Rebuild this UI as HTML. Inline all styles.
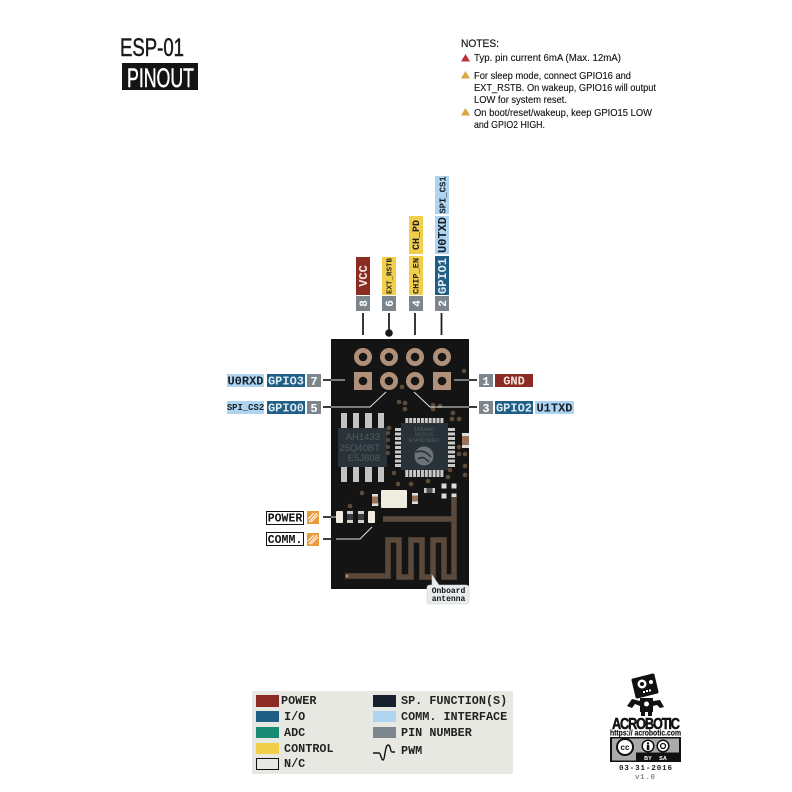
<!DOCTYPE html>
<html><head><meta charset="utf-8"><style>
html,body{margin:0;padding:0;background:#fff}
svg{display:block;filter:blur(.35px)}
.m{font-family:"Liberation Mono",monospace;font-weight:700}
.s{font-family:"Liberation Sans",sans-serif}
.n{font-size:10.5px;fill:#111;stroke:#111;stroke-width:.12}
</style></head><body>
<svg width="792" height="792" viewBox="0 0 792 792" xmlns="http://www.w3.org/2000/svg">
<rect width="792" height="792" fill="#fff"/>
<!-- title -->
<text class="s" x="120" y="56" font-size="25" fill="#1a1a1a" stroke="#1a1a1a" stroke-width=".5" textLength="64" lengthAdjust="spacingAndGlyphs">ESP-01</text>
<rect x="122" y="63" width="76" height="27" fill="#141414"/>
<text class="s" x="127" y="87" font-size="27" fill="#fff" stroke="#fff" stroke-width=".5" textLength="67" lengthAdjust="spacingAndGlyphs">PINOUT</text>
<!-- notes -->
<text class="s" x="461" y="47" font-size="11" fill="#1a1a1a" stroke="#1a1a1a" stroke-width=".2" textLength="38" lengthAdjust="spacingAndGlyphs">NOTES:</text>
<path d="M465.500 54l4.500 7.500h-9z" fill="#b8333a"/>
<path d="M465.500 71l4.500 7.500h-9z" fill="#d9a63f"/>
<path d="M465.500 108l4.500 7.500h-9z" fill="#d9a63f"/>
<text class="s n" x="474" y="61" textLength="147" lengthAdjust="spacingAndGlyphs">Typ. pin current 6mA (Max. 12mA)</text>
<text class="s n" x="474" y="79" textLength="157" lengthAdjust="spacingAndGlyphs">For sleep mode, connect GPIO16 and</text>
<text class="s n" x="474" y="91" textLength="182" lengthAdjust="spacingAndGlyphs">EXT_RSTB. On wakeup, GPIO16 will output</text>
<text class="s n" x="474" y="103" textLength="93" lengthAdjust="spacingAndGlyphs">LOW for system reset.</text>
<text class="s n" x="474" y="116" textLength="178" lengthAdjust="spacingAndGlyphs">On boot/reset/wakeup, keep GPIO15 LOW</text>
<text class="s n" x="474" y="128" textLength="71" lengthAdjust="spacingAndGlyphs">and GPIO2 HIGH.</text>

<!-- top labels -->
<rect x="356" y="257" width="14" height="38" fill="#8b2b24"/>
<rect x="382" y="257" width="14" height="38" fill="#f2cf4a"/>
<rect x="409" y="256" width="14" height="39" fill="#f2cf4a"/>
<rect x="409" y="216" width="14" height="38" fill="#f2cf4a"/>
<rect x="435" y="256" width="14" height="39" fill="#1f5f85"/>
<rect x="435" y="216" width="14" height="38" fill="#aed4ef"/>
<rect x="435" y="176" width="14" height="38" fill="#aed4ef"/>
<g fill="#7d858d"><rect x="356" y="296" width="14" height="15"/><rect x="382" y="296" width="14" height="15"/><rect x="409" y="296" width="14" height="15"/><rect x="435" y="296" width="14" height="15"/></g>
<g class="m" text-anchor="middle">
<text transform="translate(367,276) rotate(-90)" font-size="12" fill="#f3e6e0">VCC</text>
<text transform="translate(391.500,276) rotate(-90)" font-size="7.500" fill="#222">EXT_RSTB</text>
<text transform="translate(418.500,276) rotate(-90)" font-size="8.600" fill="#222">CHIP_EN</text>
<text transform="translate(419,235) rotate(-90)" font-size="10" fill="#222">CH_PD</text>
<text transform="translate(446,276) rotate(-90)" font-size="12" fill="#dfeaf2">GPIO1</text>
<text transform="translate(446,235) rotate(-90)" font-size="12" fill="#15202b">U0TXD</text>
<text transform="translate(445.500,195) rotate(-90)" font-size="8.900" fill="#15202b">SPI_CS1</text>
<text transform="translate(367,303.500) rotate(-90)" font-size="11" fill="#fff">8</text>
<text transform="translate(393,303.500) rotate(-90)" font-size="11" fill="#fff">6</text>
<text transform="translate(420,303.500) rotate(-90)" font-size="11" fill="#fff">4</text>
<text transform="translate(446,303.500) rotate(-90)" font-size="11" fill="#fff">2</text>
</g>
<g stroke="#222" stroke-width="1.800" fill="none">
<path d="M363 313V335M389 313V333M415 313V335M441.500 313V335"/>
</g>
<circle cx="389" cy="333" r="3.800" fill="#1a1a1a"/>

<!-- board -->
<rect x="331" y="339" width="138" height="250" fill="#141414"/>
<g fill="#b09078">
<circle cx="363" cy="357" r="9"/><circle cx="389" cy="357" r="9"/><circle cx="415" cy="357" r="9"/><circle cx="442" cy="357" r="9"/>
<rect x="354" y="372" width="18" height="18"/><circle cx="389" cy="381" r="9"/><circle cx="415" cy="381" r="9"/><rect x="433" y="372" width="18" height="18"/>
</g>
<g fill="#171717">
<circle cx="363" cy="357" r="4.300"/><circle cx="389" cy="357" r="4.300"/><circle cx="415" cy="357" r="4.300"/><circle cx="442" cy="357" r="4.300"/>
<circle cx="363" cy="381" r="4.300"/><circle cx="389" cy="381" r="4.300"/><circle cx="415" cy="381" r="4.300"/><circle cx="442" cy="381" r="4.300"/>
</g>
<!-- SOIC -->
<g fill="#c2c4c2">
<rect x="341" y="413" width="6" height="15"/><rect x="353" y="413" width="6" height="15"/><rect x="365" y="413" width="7" height="15"/><rect x="378" y="413" width="6" height="15"/>
<rect x="341" y="467" width="6" height="15"/><rect x="353" y="467" width="6" height="15"/><rect x="365" y="467" width="7" height="15"/><rect x="378" y="467" width="6" height="15"/>
</g>
<rect x="338" y="428" width="49" height="39" fill="#293238"/>
<g class="s" fill="#505c62" font-size="9.500" text-anchor="end">
<text x="380" y="440">AH1433</text><text x="380" y="451">25Q40BT</text><text x="380" y="461">E5J808</text>
</g>
<!-- QFN -->
<g fill="#c8cac8">
<rect x="405.300" y="418" width="3" height="6"/><rect x="409.200" y="418" width="3" height="6"/><rect x="413.100" y="418" width="3" height="6"/><rect x="417" y="418" width="3" height="6"/><rect x="420.900" y="418" width="3" height="6"/><rect x="424.800" y="418" width="3" height="6"/><rect x="428.700" y="418" width="3" height="6"/><rect x="432.600" y="418" width="3" height="6"/><rect x="436.500" y="418" width="3" height="6"/><rect x="440.400" y="418" width="3" height="6"/>
<rect x="405.300" y="470" width="3" height="7"/><rect x="409.200" y="470" width="3" height="7"/><rect x="413.100" y="470" width="3" height="7"/><rect x="417" y="470" width="3" height="7"/><rect x="420.900" y="470" width="3" height="7"/><rect x="424.800" y="470" width="3" height="7"/><rect x="428.700" y="470" width="3" height="7"/><rect x="432.600" y="470" width="3" height="7"/><rect x="436.500" y="470" width="3" height="7"/><rect x="440.400" y="470" width="3" height="7"/>
<rect x="395" y="428" width="7" height="3"/><rect x="395" y="432.500" width="7" height="3"/><rect x="395" y="437" width="7" height="3"/><rect x="395" y="441.500" width="7" height="3"/><rect x="395" y="446" width="7" height="3"/><rect x="395" y="450.500" width="7" height="3"/><rect x="395" y="455" width="7" height="3"/><rect x="395" y="459.500" width="7" height="3"/><rect x="395" y="464" width="7" height="3"/>
<rect x="448" y="428" width="7" height="3"/><rect x="448" y="432.500" width="7" height="3"/><rect x="448" y="437" width="7" height="3"/><rect x="448" y="441.500" width="7" height="3"/><rect x="448" y="446" width="7" height="3"/><rect x="448" y="450.500" width="7" height="3"/><rect x="448" y="455" width="7" height="3"/><rect x="448" y="459.500" width="7" height="3"/><rect x="448" y="464" width="7" height="3"/>
</g>
<rect x="401" y="423" width="47" height="47" fill="#293238"/>
<g class="s" fill="#505c62" font-size="5.500" text-anchor="middle">
<text x="424" y="431">10AAA0</text><text x="424" y="436.500">9K2016</text><text x="424" y="442">ESP8266EX</text>
</g>
<circle cx="424" cy="456" r="9.500" fill="#6b7478"/>
<path d="M416 452q8-3 15 5M418 459q5-4 11 3" stroke="#293238" stroke-width="1.500" fill="none"/>
<!-- vias -->
<g fill="#5f4d3c">
<circle cx="464" cy="371" r="2.300"/><circle cx="402" cy="387" r="2.300"/><circle cx="399" cy="402" r="2.300"/><circle cx="405" cy="403" r="2.300"/><circle cx="405" cy="409" r="2.300"/><circle cx="433" cy="405" r="2.300"/><circle cx="433" cy="409" r="2.300"/><circle cx="440" cy="406" r="2.300"/><circle cx="453" cy="413" r="2.300"/><circle cx="452" cy="419" r="2.300"/><circle cx="459" cy="419" r="2.300"/>
<circle cx="389" cy="428" r="2.300"/><circle cx="388" cy="433" r="2"/><circle cx="388" cy="440" r="2"/><circle cx="388" cy="447" r="2"/><circle cx="388" cy="453" r="2"/><circle cx="394" cy="473" r="2.300"/><circle cx="398" cy="484" r="2.300"/><circle cx="411" cy="484" r="2.300"/><circle cx="428" cy="481" r="2.300"/><circle cx="448" cy="477" r="2.300"/><circle cx="450" cy="470" r="2.300"/><circle cx="459" cy="447" r="2.300"/><circle cx="459" cy="454" r="2.300"/><circle cx="465" cy="454" r="2.300"/><circle cx="465" cy="466" r="2.300"/><circle cx="465" cy="475" r="2.300"/><circle cx="362" cy="493" r="2.300"/><circle cx="350" cy="506" r="2.300"/><circle cx="377" cy="504" r="2.300"/>
</g>
<!-- components -->
<rect x="462" y="433" width="7" height="15" fill="#9a7458"/><rect x="462" y="433" width="7" height="3" fill="#ddd"/><rect x="462" y="445" width="7" height="3" fill="#ddd"/>
<rect x="372" y="494" width="6" height="12" fill="#9a7458"/><rect x="372" y="494" width="6" height="2.500" fill="#ddd"/><rect x="372" y="503.500" width="6" height="2.500" fill="#ddd"/>
<rect x="412" y="493" width="6" height="11" fill="#9a7458"/><rect x="412" y="493" width="6" height="2.500" fill="#ddd"/><rect x="412" y="501.500" width="6" height="2.500" fill="#ddd"/>
<rect x="424" y="488" width="11" height="5" fill="#555"/><rect x="424" y="488" width="2.500" height="5" fill="#ccc"/><rect x="432.500" y="488" width="2.500" height="5" fill="#ccc"/>
<g fill="#dcdcd6"><rect x="441.500" y="483.500" width="5" height="5"/><rect x="451.500" y="483.500" width="5" height="5"/><rect x="441.500" y="493.500" width="5" height="5"/><rect x="451.500" y="493.500" width="5" height="5"/></g>
<rect x="381" y="490" width="26" height="18" rx="1" fill="#efece0"/>
<!-- LEDs -->
<rect x="336" y="511" width="7" height="12" rx="1" fill="#f1ece2"/>
<rect x="347" y="511" width="6" height="12" fill="#cfcfcf"/><rect x="347" y="514" width="6" height="6" fill="#3c3f42"/>
<rect x="358" y="511" width="6" height="12" fill="#cfcfcf"/><rect x="358" y="514" width="6" height="6" fill="#3c3f42"/>
<rect x="368" y="511" width="7" height="12" rx="1" fill="#f1ece2"/>
<!-- antenna -->
<g fill="none" stroke="#5b4a3b" stroke-width="5.500">
<path d="M454 497V577H444V540H433V577H422V540H411V577H399V540H388V576H345"/>
<path d="M383 519H454"/>
</g>
<circle cx="347" cy="576" r="1.500" fill="#a8876f"/>
<!-- connectors inside board -->
<g fill="none" stroke="#dfe3e3" stroke-width="1">
<path d="M331 380H345"/>
<path d="M331 407H370L386 392"/>
<path d="M414 392L430 407H469"/>
<path d="M454 380H469"/>
<path d="M336 539H360L372 527"/>
<path d="M331 517H336"/>
</g>
<g fill="none" stroke="#222" stroke-width="1.800">
<path d="M323 380H331M323 407H331M469 380H477M469 407H477M323 517H331M323 539H331"/>
</g>

<!-- left labels -->
<rect x="227" y="374" width="37" height="13" fill="#aed4ef"/>
<rect x="267" y="374" width="38" height="13" fill="#1f5f85"/>
<rect x="307" y="374" width="14" height="13" fill="#7d858d"/>
<rect x="227" y="401" width="37" height="13" fill="#aed4ef"/>
<rect x="267" y="401" width="38" height="13" fill="#1f5f85"/>
<rect x="307" y="401" width="14" height="13" fill="#7d858d"/>
<g class="m" text-anchor="middle">
<text x="245.500" y="384.500" font-size="12" fill="#15202b">U0RXD</text>
<text x="286" y="384.500" font-size="12" fill="#dfeaf2">GPIO3</text>
<text x="314" y="385" font-size="12" fill="#fff">7</text>
<text x="245.500" y="410" font-size="8.900" fill="#15202b">SPI_CS2</text>
<text x="286" y="411.500" font-size="12" fill="#dfeaf2">GPIO0</text>
<text x="314" y="412" font-size="12" fill="#fff">5</text>
</g>
<!-- right labels -->
<rect x="479" y="374" width="14" height="13" fill="#7d858d"/>
<rect x="495" y="374" width="38" height="13" fill="#8b2b24"/>
<rect x="479" y="401" width="14" height="13" fill="#7d858d"/>
<rect x="495" y="401" width="38" height="13" fill="#1f5f85"/>
<rect x="535" y="401" width="39" height="13" fill="#aed4ef"/>
<g class="m" text-anchor="middle">
<text x="486" y="385" font-size="12" fill="#fff">1</text>
<text x="514" y="384.500" font-size="12" fill="#f3e6e0">GND</text>
<text x="486" y="412" font-size="12" fill="#fff">3</text>
<text x="514" y="411.500" font-size="12" fill="#dfeaf2">GPIO2</text>
<text x="554.500" y="411.500" font-size="12" fill="#15202b">U1TXD</text>
</g>
<!-- POWER/COMM -->
<rect x="266.500" y="511.500" width="37" height="13" fill="#fff" stroke="#111"/>
<rect x="266.500" y="532.500" width="37" height="13" fill="#fff" stroke="#111"/>
<g class="m" text-anchor="middle" fill="#111" font-size="11.500">
<text x="285" y="521.500">POWER</text><text x="285" y="543">COMM.</text>
</g>
<rect x="307" y="511" width="12" height="13" fill="#e89a3c"/>
<rect x="307" y="533" width="12" height="13" fill="#e89a3c"/>
<g stroke="#fff" stroke-width="1" fill="none">
<path d="M309 522L317 513M311 522L318 515M308 519L314 513"/>
<path d="M309 544L317 535M311 544L318 537M308 541L314 535"/>
</g>
<!-- callout -->
<path d="M432 575L439 585H466Q469 585 469 588V601Q469 604 466 604H430Q427 604 427 601V588Q427 585 430 585H432Z" fill="#e8ebee" stroke="#cfd3d6" stroke-width=".6"/>
<g class="m" text-anchor="middle" font-size="8" fill="#111">
<text x="448.500" y="593">Onboard</text><text x="448.500" y="601">antenna</text>
</g>

<!-- legend -->
<rect x="252" y="691" width="261" height="83" fill="#e8e8e3"/>
<rect x="256" y="695" width="23" height="12" fill="#8b2b24"/>
<rect x="256" y="711" width="23" height="11" fill="#1f5f85"/>
<rect x="256" y="727" width="23" height="11" fill="#1b8a72"/>
<rect x="256" y="743" width="23" height="11" fill="#f2cf4a"/>
<rect x="256.500" y="758.500" width="22" height="11" fill="none" stroke="#111"/>
<rect x="373" y="695" width="23" height="12" fill="#16202e"/>
<rect x="373" y="711" width="23" height="11" fill="#aed4ef"/>
<rect x="373" y="727" width="23" height="11" fill="#7d858d"/>
<path d="M373 753H379C381 753 381 760 383 760C385 760 385 745 388 745C391 745 390 752 392 752H395" fill="none" stroke="#111" stroke-width="1.400"/>
<g class="m" font-size="11.800" fill="#222">
<text x="281" y="704">POWER</text>
<text x="284" y="720">I/O</text>
<text x="284" y="736">ADC</text>
<text x="284" y="752">CONTROL</text>
<text x="284" y="767">N/C</text>
<text x="401" y="704">SP. FUNCTION(S)</text>
<text x="401" y="720">COMM. INTERFACE</text>
<text x="401" y="736">PIN NUMBER</text>
<text x="401" y="754">PWM</text>
</g>

<!-- robot -->
<path d="M633 680L653 675L657 692L637 697Z" fill="#111" stroke="#111" stroke-width="3" stroke-linejoin="round"/>
<circle cx="642" cy="684" r="4.500" fill="#fff"/><circle cx="642" cy="684" r="2" fill="#111"/>
<circle cx="651" cy="682" r="2" fill="#fff"/>
<g fill="#fff"><rect x="643" y="691" width="2" height="2"/><rect x="646" y="690" width="2" height="2"/><rect x="649" y="689.500" width="2" height="2"/></g>
<rect x="640" y="698" width="13" height="14" fill="#111"/>
<circle cx="646.500" cy="704" r="2.500" fill="#fff"/>
<path d="M640 701L632 699L627 706L632 708L635 704L640 706Z" fill="#111"/>
<path d="M653 701L660 700L664 707L660 708L657 705L653 706Z" fill="#111"/>
<path d="M641 712H645V716H641ZM648 712H652V716H648Z" fill="#111"/>
<text class="s" transform="translate(612,729) scale(.85,1.05)" font-size="15" font-weight="700" fill="#111" stroke="#111" stroke-width=".5" textLength="80" lengthAdjust="spacing">ACROBOTIC</text>
<text class="s" x="610" y="735.500" font-size="8" font-weight="700" fill="#111" stroke="#111" stroke-width=".15" textLength="71" lengthAdjust="spacingAndGlyphs">https:// acrobotic.com</text>
<!-- cc -->
<rect x="610" y="737" width="71" height="25" fill="#111"/>
<rect x="612" y="738.500" width="67" height="14" fill="#aaa"/>
<rect x="612" y="752" width="24" height="8.500" fill="#aaa"/>
<circle cx="625" cy="747" r="8" fill="#fff" stroke="#111" stroke-width="2"/>
<text class="s" x="625" y="750" font-size="8" font-weight="700" text-anchor="middle" fill="#111">cc</text>
<circle cx="648" cy="746" r="5.800" fill="#fff" stroke="#111" stroke-width="1.500"/>
<circle cx="648" cy="743.500" r="1.200" fill="#111"/><rect x="646.800" y="745" width="2.500" height="5" fill="#111"/>
<circle cx="663" cy="746" r="5.800" fill="#fff" stroke="#111" stroke-width="1.500"/>
<circle cx="663" cy="746" r="2.500" fill="none" stroke="#111" stroke-width="1.300"/>
<g class="s" font-size="5.500" font-weight="700" fill="#fff" text-anchor="middle"><text x="648" y="760">BY</text><text x="663" y="760">SA</text></g>
<text class="m" x="619" y="770" font-size="7.500" fill="#222" textLength="53" lengthAdjust="spacing">03-31-2016</text>
<text class="m" x="635" y="779" font-size="7.500" fill="#888" font-weight="400" textLength="20" lengthAdjust="spacing">v1.0</text>
</svg>
</body></html>
